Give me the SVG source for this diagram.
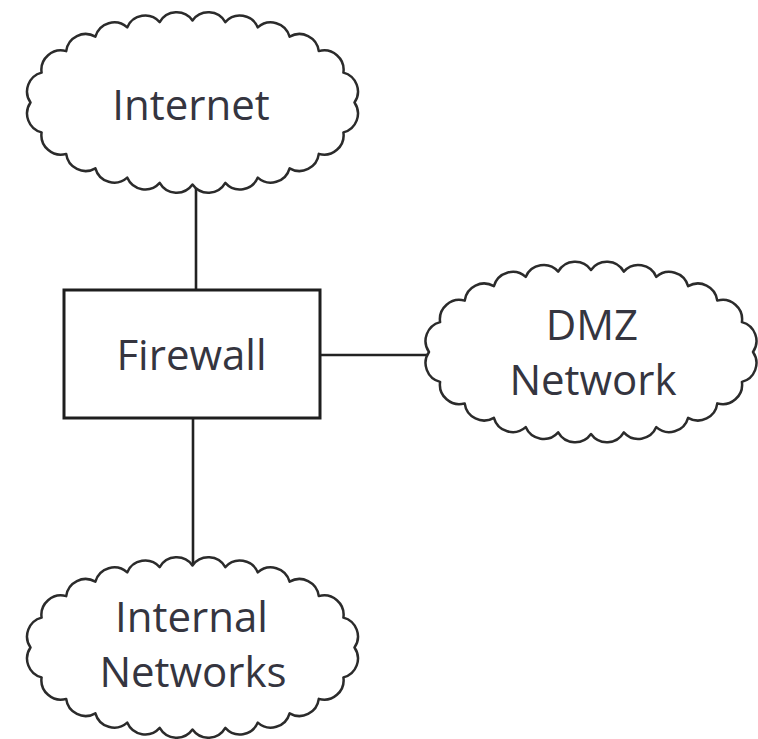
<svg xmlns="http://www.w3.org/2000/svg" xmlns:xlink="http://www.w3.org/1999/xlink" width="758" height="739" viewBox="0 0 758 739">
<style>
.cloud{fill:#ffffff;stroke:#2b2b2b;stroke-width:2.5;stroke-linejoin:round}
.box{fill:#ffffff;stroke:#1e1e1e;stroke-width:3}
.edge{stroke:#222222;stroke-width:2.6;fill:none}
.lbl{font-family:"Open Sans","Noto Sans","Liberation Sans",sans-serif;font-size:42px;fill:#35353f;text-anchor:middle}
</style>
<defs>
<path id="cloud" d="M162,0 A19.5,19.5 0 0 1 150.9,29.9 A19.5,19.5 0 0 1 126.3,51.4 A19.5,19.5 0 0 1 97.1,65.8 A19.5,19.5 0 0 1 65.3,75.1 A19.5,19.5 0 0 1 32.8,80.4 A19.5,19.5 0 0 1 0,82.1 A19.5,19.5 0 0 1 -32.8,80.4 A19.5,19.5 0 0 1 -65.3,75.1 A19.5,19.5 0 0 1 -97.1,65.8 A19.5,19.5 0 0 1 -126.3,51.4 A19.5,19.5 0 0 1 -150.9,29.9 A19.5,19.5 0 0 1 -162,0 A19.5,19.5 0 0 1 -150.9,-29.9 A19.5,19.5 0 0 1 -126.3,-51.4 A19.5,19.5 0 0 1 -97.1,-65.8 A19.5,19.5 0 0 1 -65.3,-75.1 A19.5,19.5 0 0 1 -32.8,-80.4 A19.5,19.5 0 0 1 0,-82.1 A19.5,19.5 0 0 1 32.8,-80.4 A19.5,19.5 0 0 1 65.3,-75.1 A19.5,19.5 0 0 1 97.1,-65.8 A19.5,19.5 0 0 1 126.3,-51.4 A19.5,19.5 0 0 1 150.9,-29.9 A19.5,19.5 0 0 1 162,0 Z"/>
</defs>
<rect width="758" height="739" fill="#ffffff"/>
<g id="connectors">
<line class="edge" x1="196" y1="180" x2="196" y2="290"/>
<line class="edge" x1="193" y1="418" x2="193" y2="570"/>
<line class="edge" x1="320" y1="355" x2="435" y2="355"/>
</g>
<g id="internet">
<use xlink:href="#cloud" href="#cloud" class="cloud" transform="translate(192.5,102.5)"/>
<text class="lbl" x="191" y="120">Internet</text>
</g>
<g id="firewall">
<rect class="box" x="64" y="290" width="256" height="128"/>
<text class="lbl" x="191.5" y="370">Firewall</text>
</g>
<g id="dmz">
<use xlink:href="#cloud" href="#cloud" class="cloud" transform="translate(591,352)"/>
<text class="lbl" x="592" y="340">DMZ</text>
<text class="lbl" x="593" y="395">Network</text>
</g>
<g id="internal">
<use xlink:href="#cloud" href="#cloud" class="cloud" transform="translate(192.5,647.5)"/>
<text class="lbl" x="191.5" y="632">Internal</text>
<text class="lbl" x="193" y="687">Networks</text>
</g>
</svg>
